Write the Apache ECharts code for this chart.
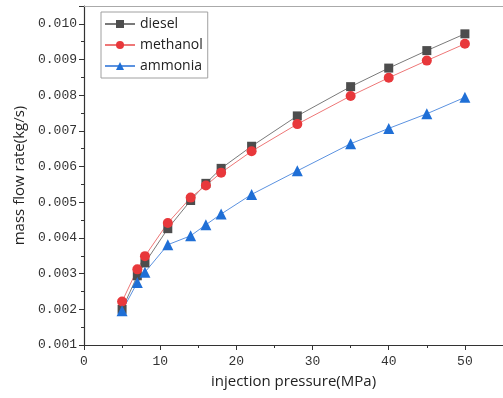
<!DOCTYPE html>
<html>
<head>
<meta charset="utf-8">
<script src="https://cdn.jsdelivr.net/npm/echarts@6/dist/echarts.min.js"></script>
<style>html,body{margin:0;padding:0;background:#fff}#c{width:503px;height:398px}</style>
</head>
<body>
<div id="c"></div>
<script>
const pressure = [5, 7, 8, 11, 14, 16, 18, 22, 28, 35, 40, 45, 50];
const diesel   = [0.00200, 0.00294, 0.00330, 0.00426, 0.00505, 0.00553, 0.00595, 0.00657, 0.00742, 0.00824, 0.00876, 0.00925, 0.00972];
const methanol = [0.00222, 0.00312, 0.00349, 0.00442, 0.00513, 0.00547, 0.00583, 0.00643, 0.00719, 0.00798, 0.00849, 0.00897, 0.00944];
const ammonia  = [0.00196, 0.00275, 0.00304, 0.00381, 0.00406, 0.00437, 0.00467, 0.00522, 0.00588, 0.00664, 0.00707, 0.00748, 0.00794];
const seriesNames = ['diesel', 'methanol', 'ammonia'];

const pairs = arr => pressure.map((x, i) => [x, arr[i]]);
const chart = echarts.init(document.getElementById('c'), null, {renderer: 'canvas'});
const serif = 'Liberation Mono';
const sans = 'Open Sans';
chart.setOption({
  animation: false,
  grid: {left: 84, top: 6, width: 420, bottom: 53},
  legend: {
    left: 101, top: 12, orient: 'vertical',
    itemWidth: 30, itemHeight: 10, itemGap: 7,
    padding: [5, 5, 5, 3],
    borderColor: '#a0a0a0', borderWidth: 1,
    textStyle: {fontFamily: sans, fontSize: 14, color: '#222'},
    data: seriesNames
  },
  xAxis: [{
    type: 'value', min: 0, max: 55, interval: 10,
    name: 'injection pressure(MPa)', nameLocation: 'middle', nameGap: 29,
    nameTextStyle: {fontFamily: sans, fontSize: 15, color: '#222'},
    axisLine: {show: true, lineStyle: {color: '#333', width: 1.2}},
    axisTick: {show: true, inside: false, length: 5, lineStyle: {color: '#333'}},
    minorTick: {show: true, splitNumber: 2, length: 3, lineStyle: {color: '#333'}},
    splitLine: {show: false},
    axisLabel: {fontFamily: serif, fontSize: 13, color: '#333', margin: 10, showMaxLabel: false}
  }, {
    type: 'value', position: 'top', min: 0, max: 55,
    axisLine: {show: true, lineStyle: {color: '#aaa', width: 1}},
    axisTick: {show: false}, axisLabel: {show: false}, splitLine: {show: false}
  }],
  yAxis: {
    type: 'value', min: 0.001, max: 0.0105, interval: 0.001,
    name: 'mass flow rate(kg/s)', nameLocation: 'middle', nameGap: 49,
    nameTextStyle: {fontFamily: sans, fontSize: 15, color: '#222'},
    axisLine: {show: true, lineStyle: {color: '#333', width: 1.2}},
    axisTick: {show: true, inside: false, length: 5, lineStyle: {color: '#333'}},
    minorTick: {show: true, splitNumber: 2, length: 3, lineStyle: {color: '#333'}},
    splitLine: {show: false},
    axisLabel: {fontFamily: serif, fontSize: 13, color: '#333', margin: 7, showMaxLabel: false,
      formatter: v => v.toFixed(3)}
  },
  series: [
    {name: 'diesel', type: 'line', data: pairs(diesel), symbol: 'rect', symbolSize: 9,
     itemStyle: {color: '#4d4d4d'}, lineStyle: {color: '#7a7a7a', width: 1}},
    {name: 'methanol', type: 'line', data: pairs(methanol), symbol: 'circle', symbolSize: 10,
     itemStyle: {color: '#e8383b'}, lineStyle: {color: '#ee7777', width: 1}},
    {name: 'ammonia', type: 'line', data: pairs(ammonia), symbol: 'triangle', symbolSize: 11,
     itemStyle: {color: '#1f6fd6'}, lineStyle: {color: '#5b92e0', width: 1}}
  ]
});
</script>
</body>
</html>
